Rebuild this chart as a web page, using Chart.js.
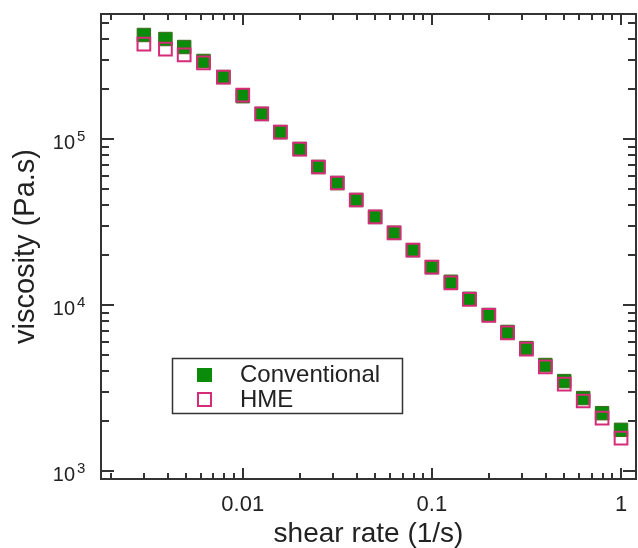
<!DOCTYPE html>
<html>
<head>
<meta charset="utf-8">
<script src="https://cdn.jsdelivr.net/npm/chart.js"></script>
<style>
  html, body { margin: 0; padding: 0; background: #fff; }
  #wrap { width: 638px; height: 548px; }
</style>
</head>
<body>
<div id="wrap"><canvas id="viscosityChart" width="638" height="548"></canvas></div>
<script>
  // values
  const shearRate = [0.003, 0.0039, 0.0049, 0.0062, 0.0079, 0.01, 0.0126, 0.0158, 0.02, 0.0251,
    0.0316, 0.0398, 0.0501, 0.0631, 0.0794, 0.1, 0.126, 0.158, 0.2, 0.251,
    0.316, 0.398, 0.501, 0.631, 0.794, 1.0];
  const conventional = [423000, 400000, 358000, 295000, 236000, 181000, 141500, 110000, 87000, 67800,
    54300, 42900, 33900, 27200, 21400, 16900, 13800, 10900, 8710, 6880,
    5500, 4350, 3480, 2750, 2230, 1770];
  const hme = [373000, 348000, 321000, 287000, 236000, 184000, 141500, 110000, 87000, 67800,
    54300, 42900, 33900, 27200, 21400, 16900, 13600, 10800, 8650, 6800,
    5420, 4240, 3340, 2640, 2080, 1580];
  const seriesLabels = ["Conventional", "HME"];

  const xTickValues = [0.01, 0.1, 1];
  const xTickLabels = ["0.01", "0.1", "1"];
  const yTickValues = [1e3, 1e4, 1e5];
  const yTickBase = ["10", "10", "10"];
  const yTickExp = ["3", "4", "5"];

  const green = "#0a8c0a";
  const pink = "#d62b78";
  const axisColor = "#333";
  const textColor = "#222";
  const fontFamily = "'Liberation Sans', Arial, sans-serif";

  function logTicks(min, max) {
    const ticks = [];
    for (let e = Math.floor(Math.log10(min)); e <= Math.ceil(Math.log10(max)); e++) {
      for (let m = 1; m <= 9; m++) {
        const v = m * Math.pow(10, e);
        if (v >= min && v <= max) ticks.push({ value: v });
      }
    }
    return ticks;
  }

  function isDecade(v) {
    const l = Math.log10(v);
    return Math.abs(l - Math.round(l)) < 1e-6;
  }

  function matchIndex(list, value) {
    return list.findIndex((v) => Math.abs(v - value) / v < 1e-6);
  }

  const framePlugin = {
    id: "frame",
    afterDraw(chart) {
      const { ctx, chartArea: a, scales } = chart;
      ctx.save();
      ctx.strokeStyle = axisColor;
      ctx.lineWidth = 2;
      ctx.strokeRect(a.left, a.top, a.right - a.left, a.bottom - a.top);

      ctx.beginPath();
      scales.x.ticks.forEach((t) => {
        const px = Math.round(scales.x.getPixelForValue(t.value));
        if (px <= a.left + 1 || px >= a.right - 1) return;
        const len = isDecade(t.value) ? 11 : 6;
        ctx.moveTo(px, a.bottom); ctx.lineTo(px, a.bottom - len);
        ctx.moveTo(px, a.top); ctx.lineTo(px, a.top + len);
      });
      scales.y.ticks.forEach((t) => {
        const py = Math.round(scales.y.getPixelForValue(t.value));
        if (py <= a.top + 1 || py >= a.bottom - 1) return;
        const len = isDecade(t.value) ? 13 : 8;
        ctx.moveTo(a.left, py); ctx.lineTo(a.left + len, py);
        ctx.moveTo(a.right, py); ctx.lineTo(a.right - len, py);
      });
      ctx.stroke();

      // y tick labels: 10 with raised exponent
      ctx.fillStyle = textColor;
      ctx.textBaseline = "alphabetic";
      yTickValues.forEach((v, i) => {
        const py = scales.y.getPixelForValue(v);
        ctx.font = "20px " + fontFamily;
        ctx.textAlign = "right";
        ctx.fillText(yTickBase[i], 75, py + 10);
        ctx.font = "15px " + fontFamily;
        ctx.textAlign = "left";
        ctx.fillText(yTickExp[i], 77, py + 2);
      });

      // legend box inside the plot
      ctx.lineWidth = 1.5;
      ctx.strokeStyle = axisColor;
      ctx.strokeRect(172.5, 358.5, 230, 55);
      ctx.fillStyle = green;
      ctx.fillRect(197, 368, 15, 14);
      ctx.lineWidth = 2;
      ctx.strokeStyle = pink;
      ctx.strokeRect(198, 393, 13, 13);
      ctx.fillStyle = textColor;
      ctx.font = "24px " + fontFamily;
      ctx.textAlign = "left";
      ctx.textBaseline = "middle";
      ctx.fillText(seriesLabels[0], 240, 375);
      ctx.fillText(seriesLabels[1], 240, 400);
      ctx.restore();
    },
  };

  const ctx = document.getElementById("viscosityChart").getContext("2d");
  new Chart(ctx, {
    type: "scatter",
    data: {
      datasets: [
        {
          label: seriesLabels[0],
          data: shearRate.map((x, i) => ({ x: x, y: conventional[i] })),
          pointStyle: "rect",
          pointRadius: 9.5,
          backgroundColor: green,
          borderColor: "#3b6a1c",
          borderWidth: 1,
          order: 1,
        },
        {
          label: seriesLabels[1],
          data: shearRate.map((x, i) => ({ x: x, y: hme[i] })),
          pointStyle: "rect",
          pointRadius: 9,
          backgroundColor: "rgba(255,255,255,0)",
          borderColor: pink,
          borderWidth: 2,
          order: 0,
        },
      ],
    },
    options: {
      responsive: false,
      animation: false,
      devicePixelRatio: 1,
      layout: { autoPadding: false, padding: { top: 14, right: 2, left: 0, bottom: 0 } },
      plugins: {
        legend: { display: false },
        tooltip: { enabled: false },
      },
      scales: {
        x: {
          type: "logarithmic",
          min: 0.00178,
          max: 1.2,
          grid: { display: false, drawTicks: false },
          border: { display: false },
          afterBuildTicks: (scale) => { scale.ticks = logTicks(scale.min, scale.max); },
          afterFit: (scale) => {
            scale.height = 69;
            scale.paddingLeft = 0;
            scale.paddingRight = 0;
          },
          ticks: {
            autoSkip: false,
            maxRotation: 0,
            minRotation: 0,
            padding: 13,
            color: textColor,
            font: { family: fontFamily, size: 22 },
            callback: (value) => {
              const i = matchIndex(xTickValues, value);
              return i >= 0 ? xTickLabels[i] : "";
            },
          },
          title: {
            display: true,
            text: "shear rate (1/s)",
            color: textColor,
            font: { family: fontFamily, size: 28, lineHeight: 1 },
            padding: { top: 0, bottom: 0 },
          },
        },
        y: {
          type: "logarithmic",
          min: 895,
          max: 566000,
          grid: { display: false, drawTicks: false },
          border: { display: false },
          afterBuildTicks: (scale) => { scale.ticks = logTicks(scale.min, scale.max); },
          afterFit: (scale) => {
            scale.width = 101;
            scale.paddingTop = 0;
            scale.paddingBottom = 0;
          },
          ticks: { display: false },
          title: {
            display: true,
            text: "viscosity (Pa.s)",
            color: textColor,
            font: { family: fontFamily, size: 29, lineHeight: 1 },
            padding: { top: 11, bottom: 0 },
          },
        },
      },
    },
    plugins: [framePlugin],
  });
</script>
</body>
</html>
